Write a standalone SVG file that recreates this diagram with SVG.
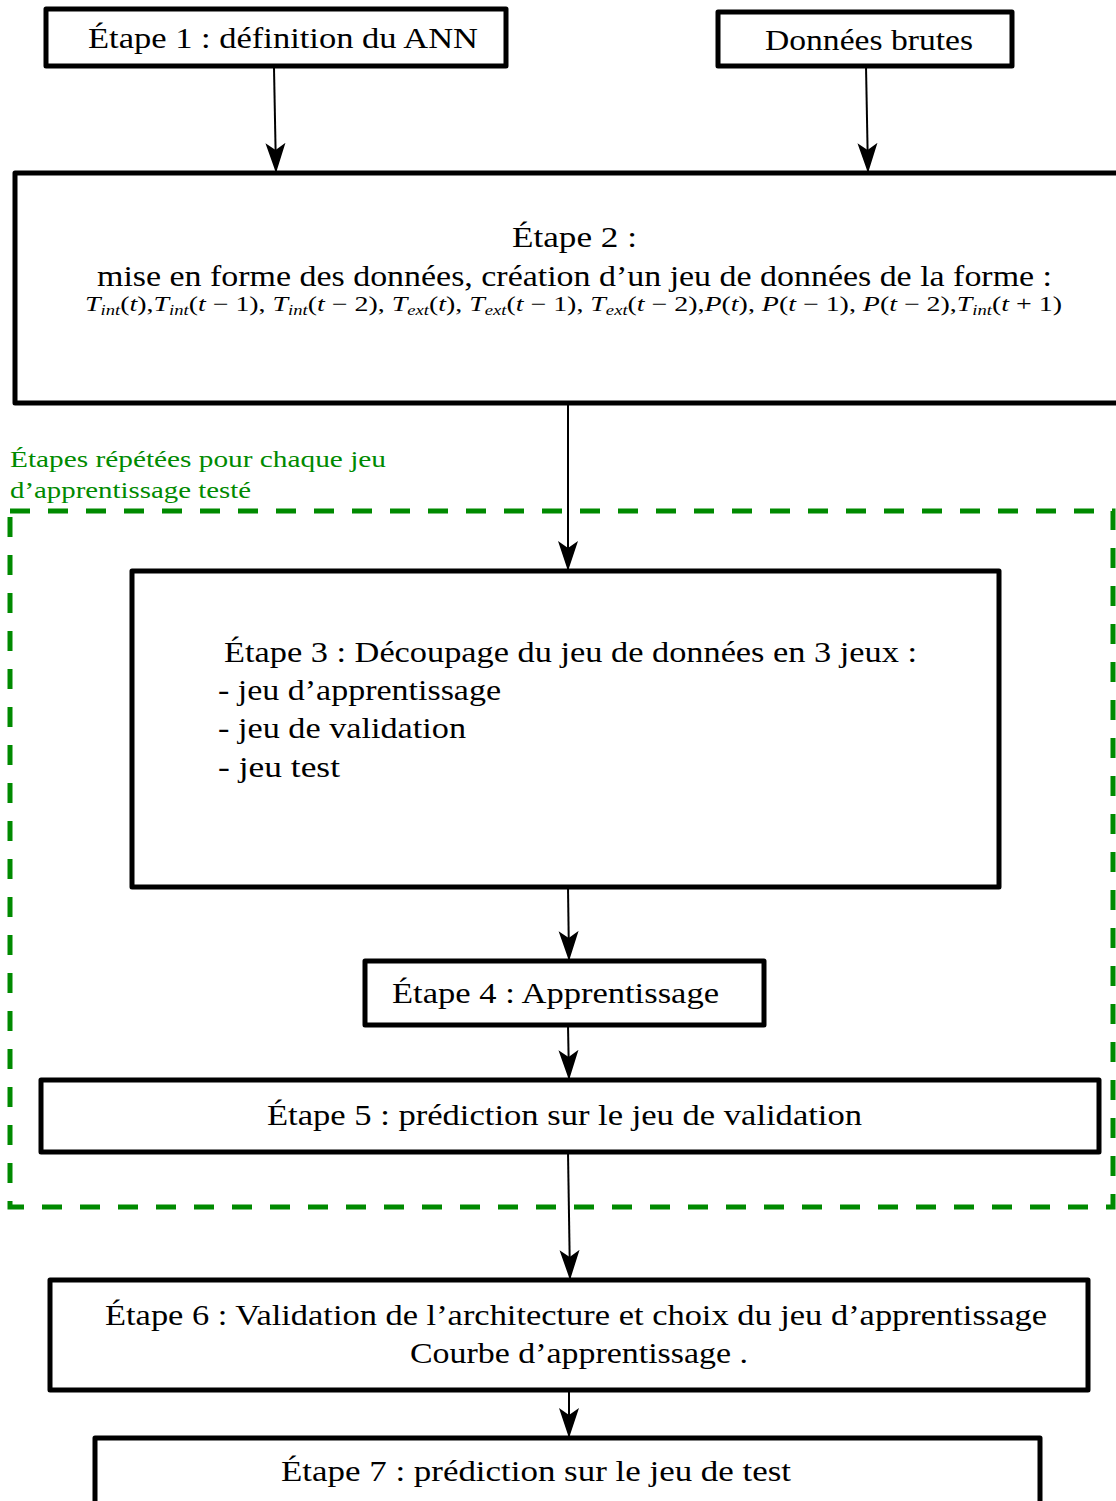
<svg xmlns="http://www.w3.org/2000/svg" width="1116" height="1501" viewBox="0 0 1116 1501">
<defs>
<style>
.box{fill:#fff;stroke:#000;stroke-width:5;stroke-linejoin:round}
.t{font-family:"Liberation Serif","DejaVu Serif",serif;font-size:30px;fill:#000}
.m{font-family:"Liberation Serif","DejaVu Serif",serif;font-size:21px;fill:#000}
.g{font-family:"Liberation Serif","DejaVu Serif",serif;font-size:24px;fill:#008a00}
.c{stroke:#000;stroke-width:2;fill:none}
</style>
<marker id="ah" markerWidth="30" markerHeight="22" viewBox="0 0 30 22" refX="29" refY="11" orient="auto" markerUnits="userSpaceOnUse">
<path d="M0,1 L30,11 L0,21 L7,11 Z" fill="#000"/>
</marker>
</defs>
<rect width="1116" height="1501" fill="#fff"/>
<g id="group-repeat">
<rect x="10" y="511" width="1103" height="696" fill="none" stroke="#008a00" stroke-width="5" stroke-dasharray="20,18"/>
<text class="g" x="10" y="467" textLength="376" lengthAdjust="spacingAndGlyphs">Étapes répétées pour chaque jeu</text>
<text class="g" x="10" y="498" textLength="241" lengthAdjust="spacingAndGlyphs">d’apprentissage testé</text>
</g>
<g id="connectors">
<line class="c" x1="274" y1="68" x2="276" y2="172" marker-end="url(#ah)"/>
<line class="c" x1="866" y1="66" x2="868" y2="172" marker-end="url(#ah)"/>
<line class="c" x1="568" y1="403" x2="568" y2="570" marker-end="url(#ah)"/>
<line class="c" x1="568" y1="887" x2="569" y2="960" marker-end="url(#ah)"/>
<line class="c" x1="568" y1="1025" x2="569" y2="1079" marker-end="url(#ah)"/>
<line class="c" x1="568" y1="1152" x2="570" y2="1279" marker-end="url(#ah)"/>
<line class="c" x1="569" y1="1390" x2="569" y2="1437" marker-end="url(#ah)"/>
</g>
<g id="etape1">
<rect class="box" x="46" y="9" width="460" height="57"/>
<text class="t" x="88" y="48" textLength="390" lengthAdjust="spacingAndGlyphs">Étape 1 : définition du ANN</text>
</g>
<g id="donnees">
<rect class="box" x="718" y="12" width="294" height="54"/>
<text class="t" x="765" y="50" textLength="208" lengthAdjust="spacingAndGlyphs">Données brutes</text>
</g>
<g id="etape2">
<rect class="box" x="15" y="173" width="1120" height="230"/>
<text class="t" x="512" y="247" textLength="125" lengthAdjust="spacingAndGlyphs">Étape 2 :</text>
<text class="t" x="97" y="286" textLength="955" lengthAdjust="spacingAndGlyphs">mise en forme des données, création d’un jeu de données de la forme :</text>
<text class="m" x="85" y="311" textLength="977" lengthAdjust="spacingAndGlyphs"><tspan font-style="italic">T</tspan><tspan font-style="italic" font-size="14" dy="4">int</tspan><tspan dy="-4">(</tspan><tspan font-style="italic">t</tspan>),<tspan font-style="italic">T</tspan><tspan font-style="italic" font-size="14" dy="4">int</tspan><tspan dy="-4">(</tspan><tspan font-style="italic">t</tspan> − 1), <tspan font-style="italic">T</tspan><tspan font-style="italic" font-size="14" dy="4">int</tspan><tspan dy="-4">(</tspan><tspan font-style="italic">t</tspan> − 2), <tspan font-style="italic">T</tspan><tspan font-style="italic" font-size="14" dy="4">ext</tspan><tspan dy="-4">(</tspan><tspan font-style="italic">t</tspan>), <tspan font-style="italic">T</tspan><tspan font-style="italic" font-size="14" dy="4">ext</tspan><tspan dy="-4">(</tspan><tspan font-style="italic">t</tspan> − 1), <tspan font-style="italic">T</tspan><tspan font-style="italic" font-size="14" dy="4">ext</tspan><tspan dy="-4">(</tspan><tspan font-style="italic">t</tspan> − 2),<tspan font-style="italic">P</tspan>(<tspan font-style="italic">t</tspan>), <tspan font-style="italic">P</tspan>(<tspan font-style="italic">t</tspan> − 1), <tspan font-style="italic">P</tspan>(<tspan font-style="italic">t</tspan> − 2),<tspan font-style="italic">T</tspan><tspan font-style="italic" font-size="14" dy="4">int</tspan><tspan dy="-4">(</tspan><tspan font-style="italic">t</tspan> + 1)</text>
</g>
<g id="etape3">
<rect class="box" x="132" y="571" width="867" height="316"/>
<text class="t" x="224" y="662" textLength="693" lengthAdjust="spacingAndGlyphs">Étape 3 : Découpage du jeu de données en 3 jeux :</text>
<text class="t" x="218" y="700" textLength="283" lengthAdjust="spacingAndGlyphs">- jeu d’apprentissage</text>
<text class="t" x="218" y="738" textLength="248" lengthAdjust="spacingAndGlyphs">- jeu de validation</text>
<text class="t" x="218" y="777" textLength="122" lengthAdjust="spacingAndGlyphs">- jeu test</text>
</g>
<g id="etape4">
<rect class="box" x="365" y="961" width="399" height="64"/>
<text class="t" x="392" y="1003" textLength="327" lengthAdjust="spacingAndGlyphs">Étape 4 : Apprentissage</text>
</g>
<g id="etape5">
<rect class="box" x="41" y="1080" width="1058" height="72"/>
<text class="t" x="267" y="1125" textLength="595" lengthAdjust="spacingAndGlyphs">Étape 5 : prédiction sur le jeu de validation</text>
</g>
<g id="etape6">
<rect class="box" x="50" y="1280" width="1038" height="110"/>
<text class="t" x="105" y="1325" textLength="942" lengthAdjust="spacingAndGlyphs">Étape 6 : Validation de l’architecture et choix du jeu d’apprentissage</text>
<text class="t" x="410" y="1363" textLength="338" lengthAdjust="spacingAndGlyphs">Courbe d’apprentissage .</text>
</g>
<g id="etape7">
<rect class="box" x="95" y="1438" width="945" height="100"/>
<text class="t" x="281" y="1481" textLength="510" lengthAdjust="spacingAndGlyphs">Étape 7 : prédiction sur le jeu de test</text>
</g>
</svg>
